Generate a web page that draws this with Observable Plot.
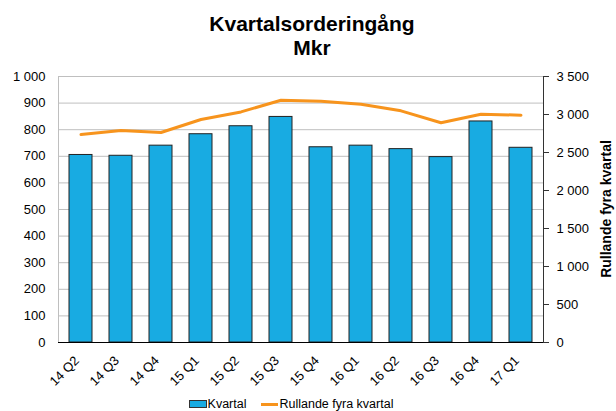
<!DOCTYPE html>
<html><head><meta charset="utf-8">
<script src="https://cdn.jsdelivr.net/npm/d3@7"></script>
<script src="https://cdn.jsdelivr.net/npm/@observablehq/plot@0.6"></script>
<style>
body{margin:0;background:#fff;font-family:"Liberation Sans",Arial,sans-serif;}
#wrap{position:relative;width:616px;height:411px;overflow:hidden;}
#wrap svg{position:absolute;left:0;top:0;}
.title{position:absolute;left:4px;width:616px;text-align:center;font-weight:bold;font-size:21px;color:#000;line-height:22px}
#ylab2{position:absolute;left:606px;top:209px;transform:translate(-50%,-50%) rotate(-90deg);font-weight:bold;font-size:14px;white-space:nowrap;}
#legend{position:absolute;top:397px;left:0;width:616px;display:flex;justify-content:center;font-size:12.5px;align-items:center;margin-left:-17px}
.sw{display:inline-block;width:16px;height:6px;background:#18abe2;border:1px solid #333;margin-right:1px}
.ln{display:inline-block;width:17px;height:3px;background:#f7941d;margin-left:15px;margin-right:1px}
</style></head>
<body><div id="wrap">
<div class="title" style="top:13px">Kvartalsorderingång</div>
<div class="title" style="top:37px">Mkr</div>
<div id="ylab2">Rullande fyra kvartal</div>
<div id="legend"><span class="sw"></span>Kvartal<span class="ln"></span>Rullande fyra kvartal</div>
</div>
<script>
const quarters = ["14 Q2","14 Q3","14 Q4","15 Q1","15 Q2","15 Q3","15 Q4","16 Q1","16 Q2","16 Q3","16 Q4","17 Q1"];
const kvartal = [705, 702, 740, 783, 813, 848, 734, 740, 727, 697, 831, 732];
const rullande = [2737, 2790, 2763, 2934, 3034, 3188, 3175, 3136, 3048, 2891, 3004, 2991];
const leftTicks = [0,100,200,300,400,500,600,700,800,900,1000];
const rightTicks = [0,500,1000,1500,2000,2500,3000,3500];
const leftMax = 1000, rightMax = 3500;
const k = leftMax / rightMax;

const fmt = d3.formatLocale({thousands:" ", grouping:[3], decimal:",", currency:["",""]}).format(",d");
const data = quarters.map((q,i)=>({q, v: kvartal[i], r: rullande[i] * k}));

const chart = Plot.plot({
  width: 616, height: 411,
  marginLeft: 58, marginRight: 73, marginTop: 76, marginBottom: 69,
  style: {fontFamily: '"Liberation Sans", Arial, sans-serif', fontSize: "13px", color: "#000", background: "transparent"},
  x: {domain: quarters, paddingInner: 0.43, paddingOuter: 0.215, label: null},
  y: {domain: [0, leftMax], label: null},
  marks: [
    Plot.gridY(leftTicks, {stroke: "#bfbfbf", strokeOpacity: 1, strokeWidth: 1}),
    Plot.frame({anchor: "left", stroke: "#bfbfbf"}),
    Plot.barY(data, {x: "q", y: "v", fill: "#18abe2", stroke: "#222", strokeWidth: 1}),
    Plot.lineY(data, {x: "q", y: "r", stroke: "#f7941d", strokeWidth: 3}),
    Plot.ruleY([0], {stroke: "#000"}),
    Plot.frame({anchor: "right", stroke: "#333"}),
    Plot.axisY(leftTicks, {anchor: "left", tickSize: 0, tickPadding: 13, tickFormat: fmt, label: null}),
    Plot.axisY(rightTicks.map(v => v * k), {anchor: "right", tickSize: 5, tickPadding: 8, tickFormat: d => fmt(Math.round(d / k)), label: null, stroke: "#333"}),
    Plot.axisX({tickSize: 0, tickPadding: 6, dx: -4, dy: 10, tickRotate: -45, label: null})
  ]
});
document.getElementById("wrap").prepend(chart);
</script>
</body></html>
